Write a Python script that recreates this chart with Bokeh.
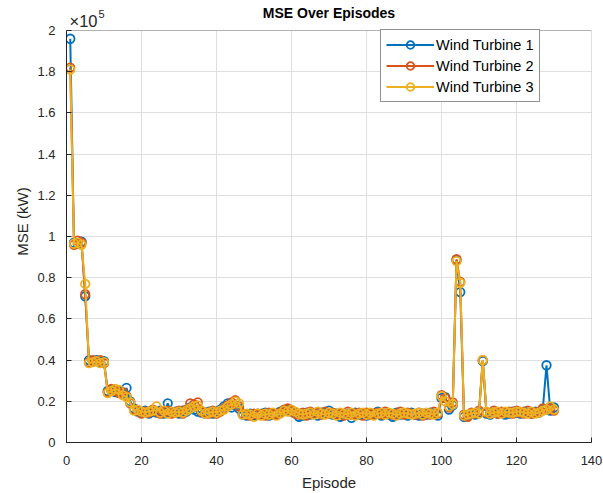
from bokeh.plotting import figure
from bokeh.models import (FixedTicker, Legend, LegendItem, Label, Range1d,
                          BoxAnnotation)
from bokeh.embed import file_html
from bokeh.resources import INLINE

# Mean squared error per training episode for three turbines (kW)
episodes = list(range(1, 131))

mse_turbine1 = [
    196000, 97000, 96500, 97500, 71000, 40000, 39500, 40000, 39000, 39500,
    25000, 25500, 24500, 25000, 23500, 26500, 20000, 16500, 15000, 14500,
    15500, 14000, 15000, 14500, 15500, 14000, 19000, 14500, 15000, 14000,
    15500, 15000, 17000, 16000, 15000, 14500, 14000, 15000, 14000, 14500,
    16000, 17500, 19000, 17000, 18000, 16500, 13500, 13000, 14000, 13000,
    14000, 13500, 14500, 13000, 14000, 13500, 15000, 15500, 16000, 15000,
    14500, 12500, 13000, 14500, 13500, 14000, 13000, 14500, 14000, 15500,
    13500, 14000, 12500, 13500, 14000, 12000, 14500, 13500, 14000, 13000,
    14000, 13500, 15000, 13000, 14000, 13500, 12500, 14500, 13500, 14000,
    13000, 14500, 13500, 13000, 14000, 13500, 14500, 14000, 13000, 21500,
    22000, 16000, 18000, 88500, 73000, 12500, 13000, 14000, 13500, 14500,
    39500, 14000, 13500, 14500, 14000, 14500, 13500, 14000, 15000, 14500,
    14000, 15000, 14500, 14000, 15000, 14500, 16000, 37500, 15500, 17000,
]

mse_turbine2 = [
    182000, 96000, 98000, 97000, 72000, 39000, 40000, 39500, 40000, 38500,
    24500, 26000, 25000, 24000, 24500, 22500, 19000, 16000, 15500, 14000,
    15000, 14500, 16000, 15000, 14000, 15000, 15500, 14000, 14500, 15500,
    14000, 16000, 19000, 18500, 19500, 15000, 14500, 14000, 15500, 14000,
    15000, 16500, 18000, 19500, 20500, 17500, 14000, 13500, 13000, 14000,
    13500, 14000, 13000, 14500, 13500, 14000, 14500, 16000, 16500, 15500,
    14000, 13500, 14500, 13000, 15000, 14000, 14500, 13500, 15000, 14000,
    14500, 13500, 14000, 13000, 15000, 13500, 14000, 14500, 13000, 14500,
    13500, 14000, 14500, 13500, 15000, 14000, 13500, 14000, 15000, 13500,
    14500, 14000, 13500, 14500, 13000, 14000, 13500, 15000, 14000, 23000,
    21500, 17000, 19500, 89000, 78000, 13500, 12500, 14500, 14000, 15500,
    40000, 14500, 14000, 15500, 14000, 15000, 14500, 15000, 14000, 15500,
    14500, 14000, 15500, 14000, 14500, 15000, 16500, 16000, 16500, 15500,
]

mse_turbine3 = [
    181000, 96500, 97000, 96000, 77000, 38500, 39000, 39500, 38500, 39000,
    24000, 25000, 26000, 25500, 23000, 22000, 19500, 15500, 16000, 15000,
    14500, 15000, 15500, 17500, 14500, 15500, 14000, 15000, 14500, 15000,
    14500, 15500, 16500, 17500, 18000, 15500, 14000, 14500, 15000, 14500,
    15500, 16000, 17500, 18500, 20000, 19000, 13500, 14000, 13500, 12500,
    14000, 13000, 14000, 13500, 14500, 13000, 14000, 15500, 15000, 16000,
    15000, 14000, 13500, 14000, 14500, 13500, 15000, 14000, 13500, 14500,
    14000, 13000, 14500, 14000, 13500, 14500, 13000, 14000, 14500, 13500,
    14500, 13000, 14000, 14500, 13500, 14500, 14000, 13000, 14000, 14500,
    14000, 13500, 14000, 14500, 13500, 14500, 14000, 13500, 14500, 22500,
    20000, 17500, 18500, 88000, 77500, 13000, 13500, 14000, 14500, 14000,
    40000, 15000, 14000, 14500, 15000, 14000, 15000, 14500, 14500, 15000,
    15000, 14500, 14000, 15000, 14000, 14500, 15500, 16000, 17500, 16000,
]

series_names = ["Wind Turbine 1", "Wind Turbine 2", "Wind Turbine 3"]
series_colors = ["#0072BD", "#D95319", "#EDB120"]

x_ticks = [0, 20, 40, 60, 80, 100, 120, 140]
y_ticks = [0, 20000, 40000, 60000, 80000, 100000, 120000, 140000, 160000, 180000, 200000]
y_tick_labels = ["0", "0.2", "0.4", "0.6", "0.8", "1", "1.2", "1.4", "1.6", "1.8", "2"]

FONT = "Liberation Sans"
INK = "#262626"

# Layout: the drawing frame runs from the canvas top down to the x axis, so
# that the title and the axis exponent can live inside it above the box.
W, H = 603, 493
BORDER_LEFT, BORDER_RIGHT, BORDER_BOTTOM = 66, 12, 51
BOX_HEIGHT = 412                      # pixel height of the 0..2e5 axes box
Y_MAX = 200000
frame_h = H - BORDER_BOTTOM
y_top = Y_MAX * frame_h / BOX_HEIGHT


def px_to_y(py):
    """Data y for a pixel row measured from the canvas top."""
    return (frame_h - py) / BOX_HEIGHT * Y_MAX


p = figure(width=W, height=H, output_backend="svg", toolbar_location=None,
           x_range=Range1d(0, 140), y_range=Range1d(0, y_top),
           min_border_left=BORDER_LEFT, min_border_right=BORDER_RIGHT,
           min_border_top=0, min_border_bottom=BORDER_BOTTOM)
p.title.visible = False
p.background_fill_color = "white"
p.border_fill_color = "white"
p.outline_line_color = None

for ax in (p.xaxis[0], p.yaxis[0]):
    ax.axis_line_color = INK
    ax.major_tick_line_color = INK
    ax.major_tick_in = 5
    ax.major_tick_out = 0
    ax.minor_tick_line_color = None
    ax.major_label_text_font = FONT
    ax.major_label_text_font_size = "13px"
    ax.major_label_text_color = INK
    ax.axis_label_text_font = FONT
    ax.axis_label_text_font_size = "15px"
    ax.axis_label_text_font_style = "normal"
    ax.axis_label_text_color = INK

p.yaxis.bounds = (0, Y_MAX)
p.xaxis.ticker = FixedTicker(ticks=x_ticks)
p.yaxis.ticker = FixedTicker(ticks=y_ticks)
p.yaxis.major_label_overrides = {t: s for t, s in zip(y_ticks, y_tick_labels)}
p.xaxis.axis_label = "Episode"
p.yaxis.axis_label = "MSE (kW)"
p.xaxis.major_label_standoff = 13
p.yaxis.major_label_standoff = 11
p.xaxis.axis_label_standoff = 6
p.yaxis.axis_label_standoff = 3

p.xgrid.ticker = FixedTicker(ticks=x_ticks)
p.ygrid.ticker = FixedTicker(ticks=y_ticks)
p.grid.grid_line_color = "#dfdfdf"
p.grid.grid_line_width = 1

# blank out the grid above the axes box
p.add_layout(BoxAnnotation(bottom=Y_MAX, fill_color="white", fill_alpha=1,
                           line_color=None, level="underlay"))

items = []
for name, color, values in zip(series_names, series_colors,
                               [mse_turbine1, mse_turbine2, mse_turbine3]):
    ln = p.line(episodes, values, line_color=color, line_width=2)
    mk = p.scatter(episodes, values, marker="circle", size=8.5,
                   fill_color=None, line_color=color, line_width=1.8)
    items.append(LegendItem(label=name, renderers=[ln, mk]))

# axes box outline
p.add_layout(BoxAnnotation(left=0, right=140, bottom=0, top=Y_MAX,
                           fill_alpha=0, line_color=INK, line_width=1,
                           level="overlay"))

legend = Legend(items=items, location=(314, 340))
legend.label_text_font = FONT
legend.label_text_font_size = "14.5px"
legend.label_text_color = "black"
legend.border_line_color = INK
legend.border_line_width = 1
legend.background_fill_color = "white"
legend.background_fill_alpha = 1
legend.glyph_width = 48
legend.glyph_height = 19
legend.label_height = 19
legend.label_standoff = 2
legend.spacing = 2
legend.padding = 5
legend.margin = 0
p.add_layout(legend)

# title centred over the box
p.add_layout(Label(x=70, y=px_to_y(12), text="MSE Over Episodes",
                   text_font=FONT, text_font_size="14px",
                   text_font_style="bold", text_color="black",
                   text_align="center", text_baseline="middle"))

# exponent marker for the y-axis scale
p.add_layout(Label(x=0, y=px_to_y(20), text="\u00d710", text_font=FONT,
                   text_font_size="16.5px", text_color=INK,
                   text_baseline="middle", x_offset=3))
p.add_layout(Label(x=0, y=px_to_y(13), text="5", text_font=FONT,
                   text_font_size="11px", text_color=INK,
                   text_baseline="middle", x_offset=32))

open("out.html", "w").write(file_html(p, INLINE))
